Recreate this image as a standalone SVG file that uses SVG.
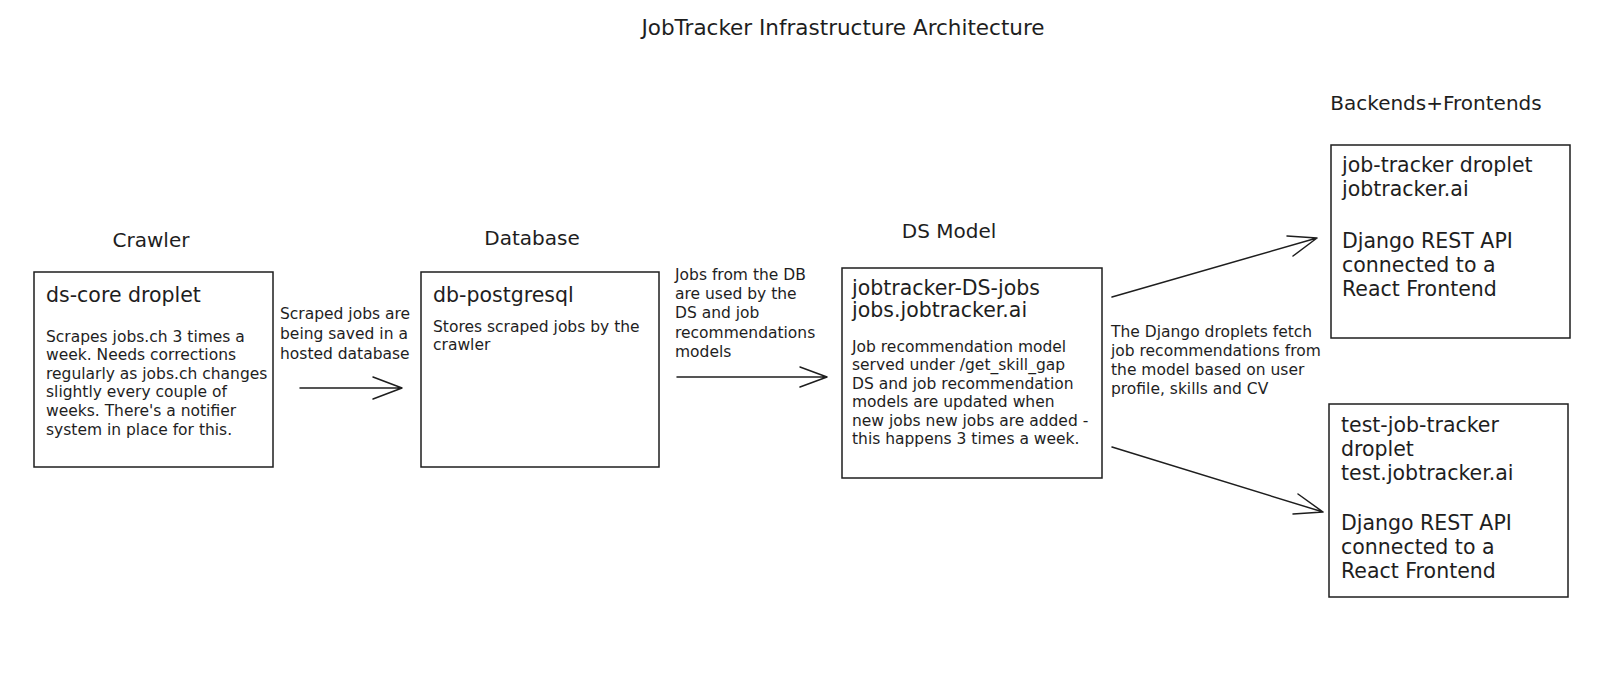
<svg xmlns="http://www.w3.org/2000/svg" width="1614" height="684" viewBox="0 0 1614 684">
<style>
text{font-family:"DejaVu Sans","Liberation Sans",sans-serif;fill:#1e1e1e}
.t{font-size:21.5px}
.h{font-size:20px}
.b{font-size:15.5px}
.l{font-size:15.5px}
.n{font-size:20.5px}
.box{fill:#fff;stroke:#1e1e1e;stroke-width:1.5}
.edge{fill:none;stroke:#1e1e1e;stroke-width:1.5;stroke-linecap:round;stroke-linejoin:round}
</style>
<rect width="1614" height="684" fill="#fff"/>
<text class="t" x="843" y="35" text-anchor="middle">JobTracker Infrastructure Architecture</text>
<text class="h" x="151" y="247" text-anchor="middle">Crawler</text>
<text class="h" x="532" y="245" text-anchor="middle">Database</text>
<text class="h" x="949" y="238" text-anchor="middle">DS Model</text>
<text class="h" x="1436" y="110" text-anchor="middle">Backends+Frontends</text>

<g id="crawler">
<rect class="box" x="34" y="272" width="239" height="195"/>
<text class="n" x="46" y="302">ds-core droplet</text>
<text class="b" x="46"><tspan x="46" y="342">Scrapes jobs.ch 3 times a</tspan><tspan x="46" y="360">week. Needs corrections</tspan><tspan x="46" y="379">regularly as jobs.ch changes</tspan><tspan x="46" y="397">slightly every couple of</tspan><tspan x="46" y="416">weeks. There's a notifier</tspan><tspan x="46" y="435">system in place for this.</tspan></text>
</g>

<g id="database">
<rect class="box" x="421" y="272" width="238" height="195"/>
<text class="n" x="433" y="302">db-postgresql</text>
<text class="b"><tspan x="433" y="332">Stores scraped jobs by the</tspan><tspan x="433" y="350">crawler</tspan></text>
</g>

<g id="dsmodel">
<rect class="box" x="842" y="268" width="260" height="210"/>
<text class="n"><tspan x="852" y="295">jobtracker-DS-jobs</tspan><tspan x="852" y="317">jobs.jobtracker.ai</tspan></text>
<text class="b"><tspan x="852" y="352">Job recommendation model</tspan><tspan x="852" y="370">served under /get_skill_gap</tspan><tspan x="852" y="389">DS and job recommendation</tspan><tspan x="852" y="407">models are updated when</tspan><tspan x="852" y="426">new jobs new jobs are added -</tspan><tspan x="852" y="444">this happens 3 times a week.</tspan></text>
</g>

<g id="jobtracker">
<rect class="box" x="1331" y="145" width="239" height="193"/>
<text class="n"><tspan x="1342" y="172">job-tracker droplet</tspan><tspan x="1342" y="196">jobtracker.ai</tspan><tspan x="1342" y="248">Django REST API</tspan><tspan x="1342" y="272">connected to a</tspan><tspan x="1342" y="296">React Frontend</tspan></text>
</g>

<g id="testjobtracker">
<rect class="box" x="1329" y="404" width="239" height="193"/>
<text class="n"><tspan x="1341" y="432">test-job-tracker</tspan><tspan x="1341" y="456">droplet</tspan><tspan x="1341" y="480">test.jobtracker.ai</tspan><tspan x="1341" y="530">Django REST API</tspan><tspan x="1341" y="554">connected to a</tspan><tspan x="1341" y="578">React Frontend</tspan></text>
</g>

<g id="connectors">
<path class="edge" d="M300 388 L402 388 M373 377 L402 388 L373 399"/>
<text class="l"><tspan x="280" y="319">Scraped jobs are</tspan><tspan x="280" y="339">being saved in a</tspan><tspan x="280" y="359">hosted database</tspan></text>
<path class="edge" d="M677 377 L827 377 M800 367 L827 377 L800 387"/>
<text class="l"><tspan x="675" y="280">Jobs from the DB</tspan><tspan x="675" y="299">are used by the</tspan><tspan x="675" y="318">DS and job</tspan><tspan x="675" y="338">recommendations</tspan><tspan x="675" y="357">models</tspan></text>
<path class="edge" d="M1112 297 L1317 238 M1287 236 L1317 238 L1293 256"/>
<path class="edge" d="M1112 447 L1323 512 M1298 494 L1323 512 L1293 514"/>
<text class="l"><tspan x="1111" y="337">The Django droplets fetch</tspan><tspan x="1111" y="356">job recommendations from</tspan><tspan x="1111" y="375">the model based on user</tspan><tspan x="1111" y="394">profile, skills and CV</tspan></text>
</g>
</svg>
